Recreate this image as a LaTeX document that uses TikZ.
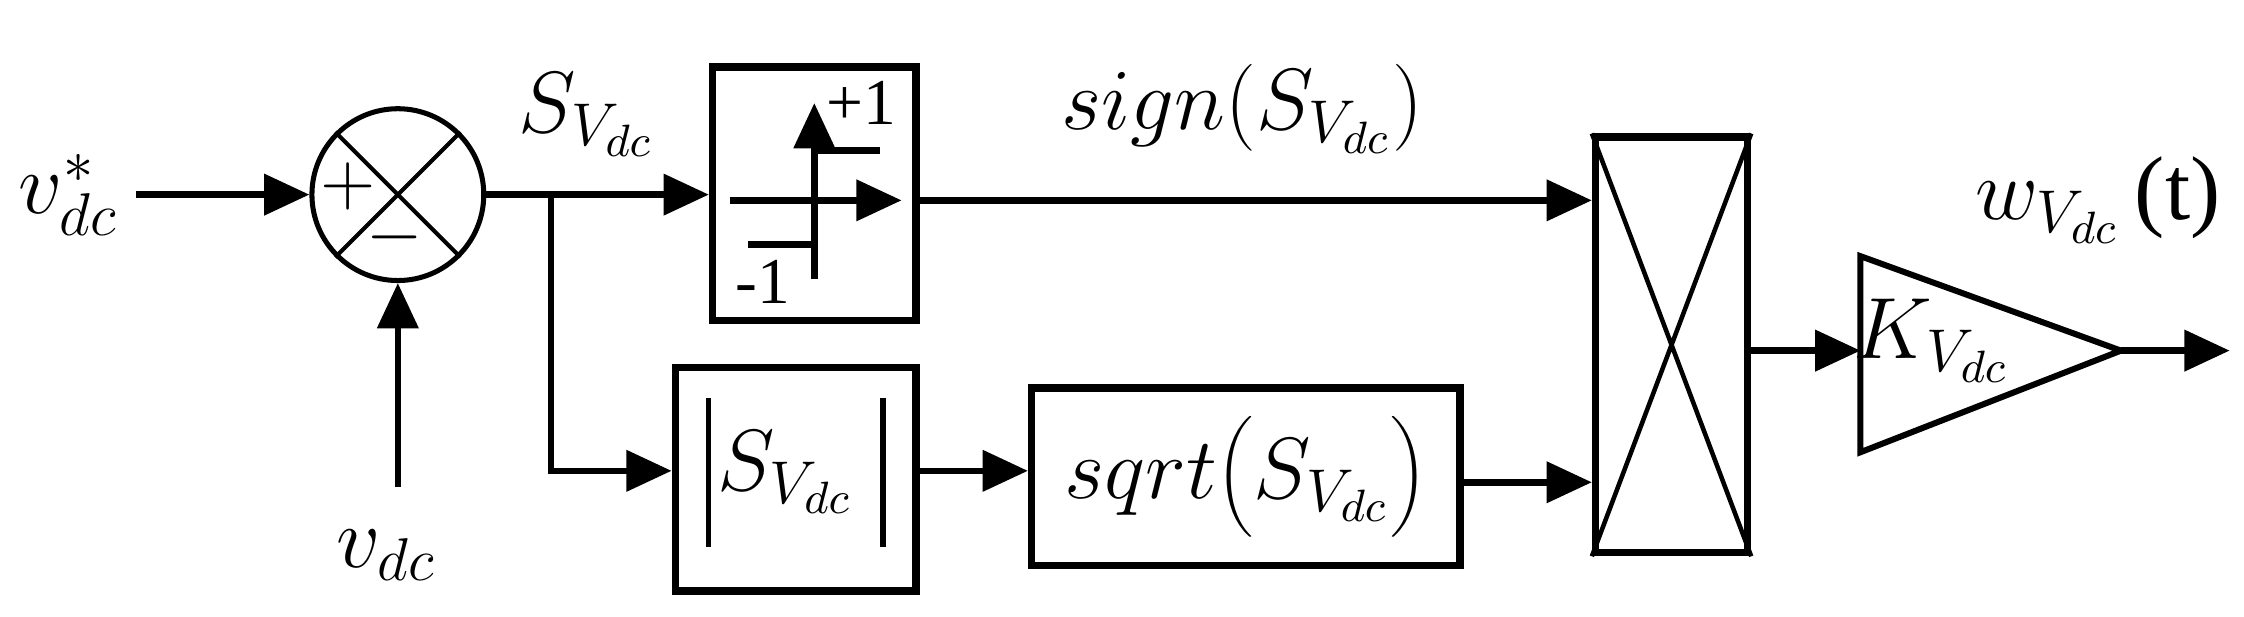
\documentclass[tikz,border=0pt]{standalone}
\usetikzlibrary{arrows.meta}
\usepackage{fontspec}
\setmainfont{Liberation Serif}
\begin{document}
\begin{tikzpicture}[x=0.01cm,y=-0.01cm,
  ln/.style={line width=1.3pt},
  arr/.style={ln,-{Triangle[length=9pt,width=8pt]}},
  blk/.style={draw,line width=1.5pt,inner sep=0pt},
  lbl/.style={inner sep=0pt,font=\fontsize{18}{22}\selectfont}]
\useasboundingbox (0,0) rectangle (1568,431);
% labels
\node[lbl] (vref) at (48,136) {$v_{dc}^{*}$};
\node[lbl] (vdc) at (270,388) {$v_{dc}$};
\node[lbl] (slab) at (410,80) {$S_{V_{dc}}$};
\node[lbl] (sgnlab) at (868,76) {$sign\Big(S_{V_{dc}}\Big)$};
\node[lbl] (wlab) at (1466,140) {$w_{V_{dc}}\,$(t)};
% summing junction
\node[draw,circle,line width=1pt,minimum size=1.2cm,inner sep=0pt] (sum) at (278,136) {};
\draw[line width=0.8pt] (sum.north west) -- (sum.south east) (sum.north east) -- (sum.south west);
\node[lbl,font=\fontsize{15}{18}\selectfont] (plus) at (243,130) {$+$};
\node[lbl,font=\fontsize{15}{18}\selectfont] (minus) at (276,166) {$-$};
% sign block
\node[blk,minimum width=1.42cm,minimum height=1.77cm] (sgn) at (569,135.5) {};
\coordinate (hx0) at (510,140); \coordinate (hx1) at (630,140);
\coordinate (vy0) at (569,195); \coordinate (vy1) at (569,72);
\draw[arr] (hx0) -- (hx1);
\draw[arr] (vy0) -- (vy1);
\coordinate (s1a) at (569,105); \coordinate (s1b) at (615,105);
\coordinate (s2a) at (523,171); \coordinate (s2b) at (569,171);
\draw[ln] (s1a) -- (s1b) (s2a) -- (s2b);
\node[lbl,font=\fontsize{13}{15}\selectfont] (p1) at (602,72) {+1};
\node[lbl,font=\fontsize{13}{15}\selectfont] (m1) at (533,197) {-1};
% abs block
\node[blk,minimum width=1.68cm,minimum height=1.56cm] (abs) at (556,335) {};
\coordinate (b1a) at (495,278); \coordinate (b1b) at (495,382);
\coordinate (b2a) at (617,278); \coordinate (b2b) at (617,382);
\draw[line width=1.1pt] (b1a) -- (b1b) (b2a) -- (b2b);
\node[lbl] (abst) at (549,330) {$S_{V_{dc}}$};
% sqrt block
\node[blk,minimum width=2.99cm,minimum height=1.24cm] (sq) at (870.5,333) {\fontsize{18}{22}\selectfont$sqrt\bigg(S_{V_{dc}}\bigg)$};
% multiplier
\node[blk,minimum width=1.06cm,minimum height=2.9cm] (mul) at (1168,241) {};
\draw[line width=0.9pt] (mul.north west) -- (mul.south east) (mul.north east) -- (mul.south west);
% gain
\coordinate (gt) at (1300,179); \coordinate (gb) at (1300,316); \coordinate (ga) at (1482,245);
\draw[line width=1.2pt] (gt) -- (ga) -- (gb) -- cycle;
\node[lbl] (K) at (1350,238) {$K_{V_{dc}}$};
% connectors
\coordinate (vin) at (95,136);
\draw[arr] (vin) -- (sum.west);
\coordinate (vdcs) at (278,340);
\draw[arr] (vdcs) -- (sum.south);
\coordinate (br) at (385,136);
\draw[arr] (sum.east) -- (sgn.west |- sum.east);
\draw[arr] (br) |- (abs.west |- 0,329);
\draw[arr] (sgn.east |- 0,140) -- (mul.west |- 0,140);
\draw[arr] (abs.east |- 0,329) -- (sq.west |- 0,329);
\draw[arr] (sq.east |- 0,337) -- (mul.west |- 0,337);
\coordinate (gl) at (1300,245);
\draw[arr] (mul.east |- gl) -- (gl);
\coordinate (out) at (1558,245);
\draw[arr] (ga) -- (out);
\end{tikzpicture}
\end{document}
